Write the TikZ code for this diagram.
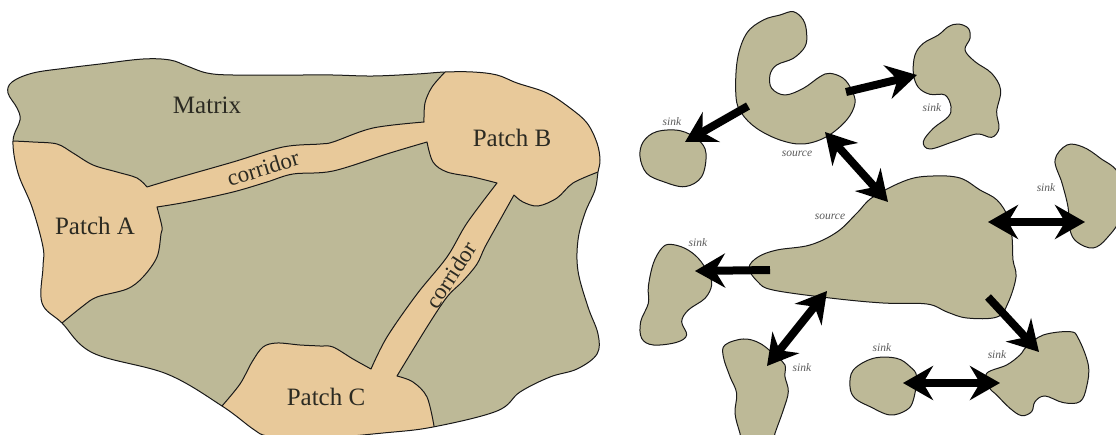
\documentclass[tikz,border=0pt]{standalone}
\usepackage{fontspec}
\setmainfont{Liberation Serif}
\usetikzlibrary{arrows.meta}
\definecolor{matrixc}{HTML}{BDB997}
\definecolor{patchc}{HTML}{E8C99A}
\definecolor{inkc}{HTML}{2B2A22}
\tikzset{
  edge/.style={draw=black!90!white,line width=1pt,line join=round},
  blob/.style={edge,fill=matrixc},
  big/.style={text=inkc,font=\fontsize{25}{25}\selectfont,inner sep=0pt},
  corr/.style={text=inkc,font=\fontsize{23}{23}\selectfont,inner sep=0pt},
  tiny/.style={text=black!65,font=\itshape\fontsize{11.5}{12}\selectfont,inner sep=0pt},
  flow/.style={line width=8pt,black,-{Stealth[length=30pt,width=34pt,inset=10pt]}},
  both/.style={line width=8pt,black,{Stealth[length=30pt,width=34pt,inset=10pt]}-{Stealth[length=30pt,width=34pt,inset=10pt]}},
  sm/.style={smooth,tension=0.55},
  smc/.style={smooth cycle,tension=0.6}
}
\newcommand{\outerpath}{plot[smc] coordinates {(8,93)(12,82)(33,73)(67,68)(100,64)(143,59)(170,60)(187,66)(207,73)(233,75)(300,75)(333,75)(373,76)(417,74)(445,72)(473,72)(497,75)(517,83)(547,93)(570,108)(587,123)(597,143)(600,160)(598,172)(595,190)(585,213)(578,240)(578,271)(588,307)(598,334)(597,354)(577,369)(550,377)(520,392)(497,411)(433,427)(383,433)(300,440)(267,436)(253,429)(222,406)(167,374)(93,353)(62,323)(42,303)(43,267)(43,247)(32,207)(18,173)(13,141)(20,120)(17,108)}}
\begin{document}
\begin{tikzpicture}[x=1pt,y=-1pt]
\useasboundingbox (0,0) rectangle (1116,434);
\clip (0,0) rectangle (1116,434);
% left panel
\fill[matrixc] \outerpath;
\begin{scope}
\clip \outerpath;
\filldraw[edge,fill=patchc]
  (-5,141) -- (13,141)
  -- plot[sm] coordinates {(13,141)(33,142)(57,144)(73,153)(93,165)(117,172)(137,178)(147,187)}
  -- plot[sm] coordinates {(147,187)(177,178)(233,162)(283,147)(320,144)(333,142)(373,128)(424,122)}
  -- plot[sm] coordinates {(424,122)(425,103)(432,87)(445,72)}
  -- (445,50) -- (620,50) -- (620,165) -- (598,172)
  -- plot[sm] coordinates {(598,172)(573,183)(557,198)(538,206)(523,202)(514,195)}
  -- plot[sm] coordinates {(514,195)(500,220)(485,247)(477,264)(463,281)(447,297)(427,327)(397,376)}
  -- plot[sm] coordinates {(397,376)(413,382)(427,397)(434,426)}
  -- (434,450) -- (222,450) -- (222,406)
  -- plot[sm] coordinates {(222,406)(240,384)(252,362)(263,347)(277,343)(300,345)(320,346)(333,347)(353,359)(371,369)}
  -- plot[sm] coordinates {(371,369)(387,337)(417,294)(447,257)(467,223)(497,183)}
  -- plot[sm] coordinates {(497,183)(473,177)(447,172)(433,162)(427,142)}
  -- plot[sm] coordinates {(427,142)(390,153)(333,171)(293,174)(267,182)(233,192)(187,202)(157,207)}
  -- plot[sm] coordinates {(157,207)(162,227)(161,234)(157,257)(143,277)(127,289)(97,297)(83,306)(62,323)}
  -- (30,340) -- (-5,340) -- cycle;
\end{scope}
\draw[edge] \outerpath;
\node[big] (matrix) at (207,105) {Matrix};
\node[big] (patcha) at (95,226) {Patch A};
\node[big] (patchb) at (512,138) {Patch B};
\node[big] (patchc) at (326,397) {Patch C};
\node[corr,rotate=17] (corr1) at (263,168) {corridor};
\node[corr,rotate=57] (corr2) at (451,275) {corridor};
% right panel
\begin{scope}[shift={(630pt,0pt)},x=0.3333pt,y=-0.3333pt]
\draw[blob] plot[smc] coordinates {(490,35)(520,60)(530,100)(525,140)(490,175)(440,195)(420,225)(425,265)(465,285)(520,265)(570,230)(600,220)(640,235)(665,270)(675,310)(650,360)(590,410)(520,432)(450,420)(380,385)(335,340)(318,290)(322,180)(350,100)(400,60)(450,45)};
\draw[blob] plot[smc] coordinates {(80,395)(150,392)(205,420)(228,460)(215,530)(165,560)(100,545)(50,520)(30,470)(40,425)};
\end{scope}
\begin{scope}[shift={(880pt,0pt)},x=0.3333pt,y=-0.3333pt]
\draw[blob] plot[smc] coordinates {(235,72)(265,85)(270,115)(255,150)(285,185)(335,220)(362,270)(350,335)(357,385)(335,412)(290,402)(220,425)(150,447)(130,425)(160,385)(205,350)(213,320)(195,285)(150,283)(115,262)(100,220)(105,165)(130,130)(175,105)(205,80)};
\end{scope}
\draw[blob] plot[smc] coordinates {(1055,160)(1067,145)(1083,147)(1100,158)(1119,175)(1121,215)(1107,238)(1093,248)(1077,242)(1070,230)(1068,207)(1062,183)};
\draw[blob] plot[smc] coordinates {(857,213)(873,197)(907,180)(933,176)(960,178)(980,190)(997,200)(1008,217)(1012,237)(1013,260)(1016,277)(1008,303)(997,317)(967,318)(947,312)(927,304)(883,303)(830,298)(773,290)(758,282)(749,268)(758,257)(777,250)(810,245)(837,232)};
\begin{scope}[shift={(630pt,-210pt)},x=0.3333pt,y=-0.3333pt]
\draw[blob] plot[smc] coordinates {(120,103)(165,115)(205,145)(235,190)(245,225)(225,265)(175,300)(155,335)(170,375)(140,397)(70,405)(35,385)(32,335)(55,280)(55,230)(70,160)(95,115)};
\draw[blob] plot[smc] coordinates {(285,405)(340,387)(390,400)(440,440)(465,465)(465,500)(475,545)(460,600)(435,670)(420,720)(345,720)(330,670)(315,610)(320,550)(300,500)(280,440)};
\end{scope}
\begin{scope}[shift={(840pt,-210pt)},x=0.3333pt,y=-0.3333pt]
\draw[blob] plot[smc] coordinates {(100,445)(170,445)(210,470)(230,500)(220,570)(200,600)(150,615)(90,590)(45,565)(30,530)(40,480)};
\draw[blob] plot[smc] coordinates {(440,490)(500,465)(540,435)(560,410)(610,375)(690,365)(715,385)(745,465)(740,530)(720,575)(670,578)(615,558)(585,575)(575,605)(545,617)(510,595)(470,555)(445,530)};
\end{scope}
% labels
\node[tiny] (s1) at (672,122) {sink};
\node[tiny] (s2) at (797,154) {source};
\node[tiny] (s3) at (932,108) {sink};
\node[tiny] (s4) at (1046,188) {sink};
\node[tiny] (s5) at (830,217) {source};
\node[tiny] (s6) at (698,243) {sink};
\node[tiny] (s7) at (802,368) {sink};
\node[tiny] (s8) at (882,348) {sink};
\node[tiny] (s9) at (997,355) {sink};
% arrows
\coordinate (a1) at (748,106); \coordinate (b1) at (685,142);
\coordinate (a2) at (846,92);  \coordinate (b2) at (917,75);
\coordinate (a3) at (825,132); \coordinate (b3) at (888,202);
\coordinate (a4) at (770,270); \coordinate (b4) at (695,271);
\coordinate (a5) at (827,291); \coordinate (b5) at (767,366);
\coordinate (a6) at (988,222); \coordinate (b6) at (1085,222);
\coordinate (a7) at (988,297); \coordinate (b7) at (1039,352);
\coordinate (a8) at (903,383); \coordinate (b8) at (1000,383);
\draw[flow] (a1) -- (b1);
\draw[flow] (a2) -- (b2);
\draw[both] (a3) -- (b3);
\draw[flow] (a4) -- (b4);
\draw[both] (a5) -- (b5);
\draw[both] (a6) -- (b6);
\draw[flow] (a7) -- (b7);
\draw[both] (a8) -- (b8);
\end{tikzpicture}
\end{document}
